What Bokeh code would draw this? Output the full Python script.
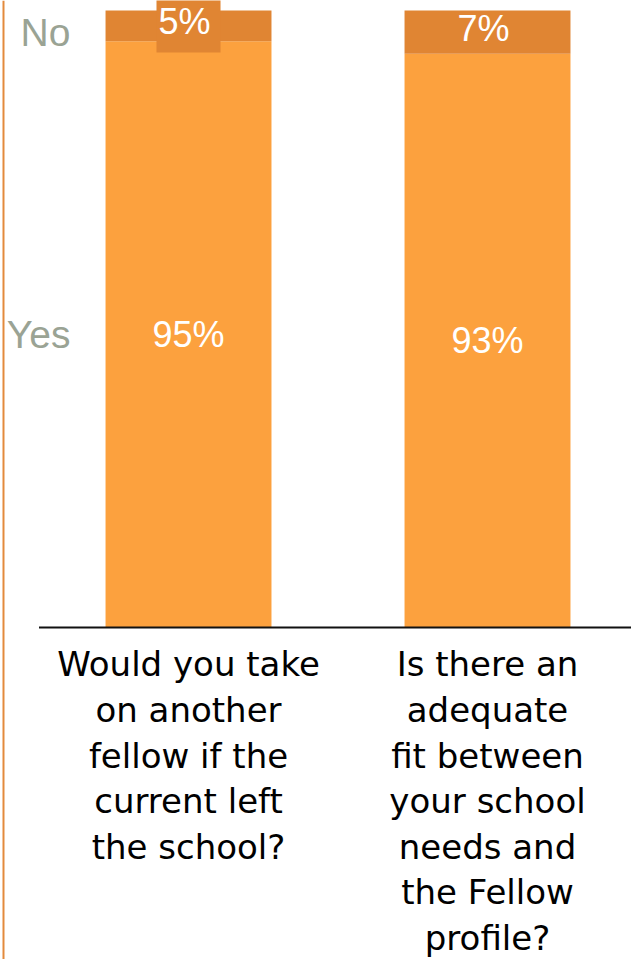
from bokeh.plotting import figure
from bokeh.models import ColumnDataSource, Range1d, Span
from bokeh.core.properties import value
from bokeh.embed import file_html
from bokeh.resources import INLINE

categories = [
    "Would you take\non another\nfellow if the\ncurrent left\nthe school?",
    "Is there an\nadequate\nfit between\nyour school\nneeds and\nthe Fellow\nprofile?",
]
yes_values = [95, 93]
no_values = [5, 7]
series_names = ["Yes", "No"]

YES_COLOR = "#FCA13E"
NO_COLOR = "#E08533"
GRAY = "#9AA394"

x = list(range(len(categories)))
no_top = [a + b for a, b in zip(yes_values, no_values)]

src = ColumnDataSource(dict(
    x=x,
    yes_top=yes_values,
    no_bottom=yes_values,
    no_top=no_top,
    yes_mid=[v / 2 for v in yes_values],
    no_mid=[a + b / 2 for a, b in zip(yes_values, no_values)],
    yes_lbl=[f"{v}%" for v in yes_values],
    no_lbl=[f"{v}%" for v in no_values],
    no_bg_alpha=[1.0, 0.0],
    cat=categories,
))

W, H = 631, 959
X0, X1 = -0.6288, 1.4816
Y0, Y1 = -53.81, 101.62
p = figure(width=W, height=H, output_backend="svg", toolbar_location=None,
           x_range=Range1d(X0, X1), y_range=Range1d(Y0, Y1),
           min_border=0, min_border_left=0, min_border_right=0,
           min_border_top=0, min_border_bottom=0)
p.axis.visible = False
p.grid.visible = False
p.outline_line_color = None
p.background_fill_color = "white"
p.border_fill_color = "white"

bw = 0.555
p.vbar(x="x", bottom=0, top="yes_top", width=bw, source=src,
       fill_color=YES_COLOR, line_color=None)
p.vbar(x="x", bottom="no_bottom", top="no_top", width=bw, source=src,
       fill_color=NO_COLOR, line_color=None)

# baseline
p.segment(x0=[x[0] - 0.5], y0=[0], x1=[x[-1] + 0.5], y1=[0],
          line_color="#111111", line_width=2)

# left orange rule
p.add_layout(Span(location=X0 + 3.0 / 299, dimension="height",
                  line_color="#E38A3C", line_width=2))

# value labels
p.text(x="x", y="yes_mid", text="yes_lbl", source=src, text_color="white",
       text_font=value("Liberation Sans"), text_font_size="36px",
       text_align="center", text_baseline="middle")
p.text(x="x", y="no_mid", text="no_lbl", source=src, text_color="white",
       text_font=value("Liberation Sans"), text_font_size="36px",
       text_align="center", text_baseline="middle",
       background_fill_color=NO_COLOR, background_fill_alpha="no_bg_alpha",
       padding=(2, 10, 2, 10))

# series labels at left
p.text(x=[x[0] - 0.395], y=[no_top[1] - no_values[1] / 2], text=[series_names[1]],
       text_color=GRAY, text_font=value("Liberation Sans"), text_font_size="39px",
       text_align="right", text_baseline="middle")
p.text(x=[x[0] - 0.395], y=[yes_values[0] / 2], text=[series_names[0]],
       text_color=GRAY, text_font=value("Liberation Sans"), text_font_size="39px",
       text_align="right", text_baseline="middle")

# category labels
p.text(x="x", y=-2.75, text="cat", source=src, text_color="black",
       text_font=value("DejaVu Sans"), text_font_size="34px",
       text_align="center", text_baseline="top", text_line_height=1.14)

open("out.html", "w").write(file_html(p, INLINE))
